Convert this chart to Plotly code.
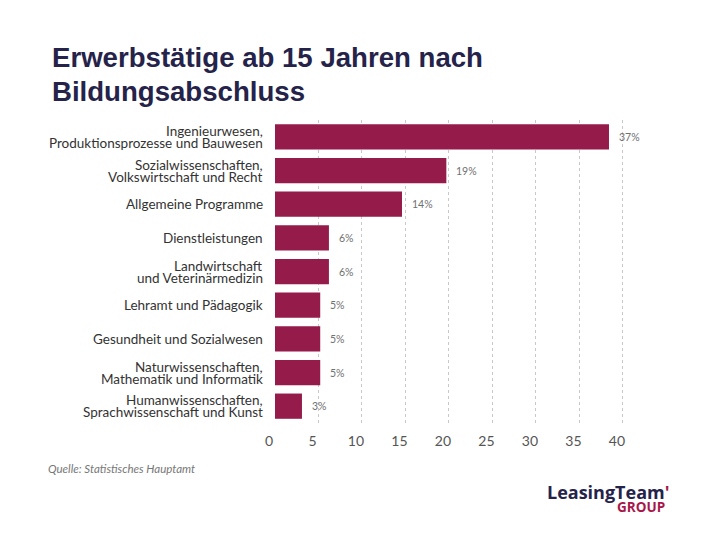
import plotly.graph_objects as go

categories = [
    "Ingenieurwesen,|Produktionsprozesse und Bauwesen",
    "Sozialwissenschaften,|Volkswirtschaft und Recht",
    "Allgemeine Programme",
    "Dienstleistungen",
    "Landwirtschaft|und Veterinärmedizin",
    "Lehramt und Pädagogik",
    "Gesundheit und Sozialwesen",
    "Naturwissenschaften,|Mathematik und Informatik",
    "Humanwissenschaften,|Sprachwissenschaft und Kunst",
]
values = [38.4, 19.7, 14.6, 6.2, 6.2, 5.2, 5.2, 5.2, 3.1]
value_labels = ["37%", "19%", "14%", "6%", "6%", "5%", "5%", "5%", "3%"]
x_ticks = [0, 5, 10, 15, 20, 25, 30, 35, 40]

title_lines = ["Erwerbstätige ab 15 Jahren nach", "Bildungsabschluss"]
source_text = "Quelle: Statistisches Hauptamt"
logo_main = "LeasingTeam"
logo_sub = "GROUP"

BAR = "#951b4a"
NAVY = "#25234a"
CRIMSON = "#a8174a"

# figure is drawn inside the page body (8px default margin), so it is 8px smaller
W, H = 712, 532
L, R, T, B = 267, 71, 112, 117
PW, PH = W - L - R, H - T - B


def px_x(x):
    return (x - L) / PW


def px_y(y):
    return (H - B - y) / PH


fig = go.Figure()
fig.add_trace(go.Bar(
    x=values, y=categories, orientation="h",
    marker=dict(color=BAR, line=dict(width=0)),
    hoverinfo="skip",
))

annotations = []
# category labels (one annotation per line for tight line spacing)
for c in categories:
    lines = c.split("|")
    n = len(lines)
    for i, line in enumerate(lines):
        shift = (n - 1) * 6 - i * 12
        annotations.append(dict(
            x=0, y=c, xref="paper", yref="y", text=line, showarrow=False,
            xanchor="right", yanchor="middle", xshift=-10, yshift=shift,
            font=dict(family="Lato", size=13.5, color="#333333"),
        ))

# value labels
for v, lab, c in zip(values, value_labels, categories):
    annotations.append(dict(
        x=v, y=c, xref="x", yref="y", text=lab, showarrow=False,
        xanchor="left", yanchor="middle", xshift=8,
        font=dict(family="Lato", size=10.5, color="#707070"),
    ))

# title
for i, line in enumerate(title_lines):
    annotations.append(dict(
        text=line, xref="paper", yref="paper", x=px_x(42), y=px_y(50 + i * 33.7),
        showarrow=False, xanchor="left", yanchor="middle", align="left",
        font=dict(family="Liberation Sans", size=27.6, color=NAVY, weight="bold"),
    ))

# source
annotations.append(dict(
    text="<i>" + source_text + "</i>", xref="paper", yref="paper",
    x=px_x(38), y=px_y(460), showarrow=False, xanchor="left", yanchor="middle",
    font=dict(family="Lato", size=11.5, color="#777777"),
))

# logo
annotations.append(dict(
    text="<b>" + logo_main + "</b><b><span style='color:" + CRIMSON + "'>'</span></b>",
    xref="paper", yref="paper", x=px_x(664), y=px_y(484),
    showarrow=False, xanchor="right", yanchor="middle",
    font=dict(family="Open Sans", size=18, color=NAVY),
))
annotations.append(dict(
    text="<b>" + logo_sub + "</b>", xref="paper", yref="paper", x=px_x(659), y=px_y(499),
    showarrow=False, xanchor="right", yanchor="middle",
    font=dict(family="Open Sans", size=13.5, color=CRIMSON),
))

fig.update_layout(
    width=W, height=H,
    margin=dict(l=L, r=R, t=T, b=B, autoexpand=False),
    paper_bgcolor="white", plot_bgcolor="white",
    showlegend=False, bargap=0.25,
    annotations=annotations,
    xaxis=dict(
        range=[0, 43], tickvals=x_ticks, ticktext=[str(t) for t in x_ticks],
        showgrid=True, gridcolor="#c8c8c8", griddash="dot", gridwidth=1,
        zeroline=False, showline=False, ticks="",
        tickfont=dict(family="Lato", size=14, color="#555555"),
        ticklabelstandoff=8, ticklabelshift=-6, fixedrange=True,
    ),
    yaxis=dict(
        autorange="reversed", showgrid=False, zeroline=False, showline=False,
        ticks="", showticklabels=False, fixedrange=True,
    ),
)

fig.write_html("out.html")
